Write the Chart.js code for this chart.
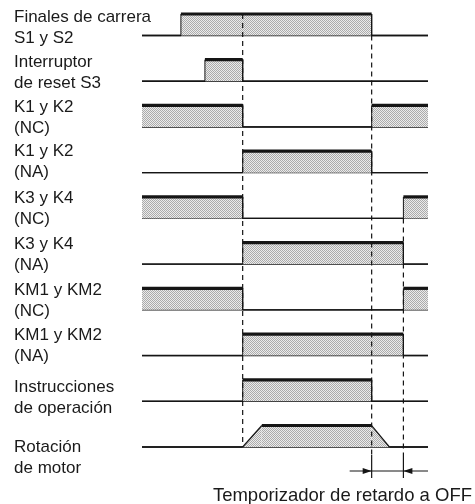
<!DOCTYPE html>
<html>
<head>
<meta charset="utf-8">
<script src="https://cdn.jsdelivr.net/npm/chart.js@4"></script>
<style>
    body { margin: 0; background: #fff; }
</style>
</head>
<body>
<canvas id="timingChart" width="475" height="504"></canvas>
<script>
// Signal names, two lines each
const signalLabels = [
    ['Finales de carrera', 'S1 y S2'],
    ['Interruptor', 'de reset S3'],
    ['K1 y K2', '(NC)'],
    ['K1 y K2', '(NA)'],
    ['K3 y K4', '(NC)'],
    ['K3 y K4', '(NA)'],
    ['KM1 y KM2', '(NC)'],
    ['KM1 y KM2', '(NA)'],
    ['Instrucciones', 'de operación'],
    ['Rotación', 'de motor']
];

// switching instants on the time axis
const switchTimes = [0, 13.6, 22, 35.2, 80.3, 91.4, 100];

// state (1 = on) in each interval between switching instants
const s1s2State = [0, 1, 1, 1, 0, 0];
const s3State = [0, 0, 1, 0, 0, 0];
const k1k2NcState = [1, 1, 1, 0, 1, 1];
const k1k2NaState = [0, 0, 0, 1, 0, 0];
const k3k4NcState = [1, 1, 1, 0, 0, 1];
const k3k4NaState = [0, 0, 0, 1, 1, 0];
const km1km2NcState = [1, 1, 1, 0, 0, 1];
const km1km2NaState = [0, 0, 0, 1, 1, 0];
const operationState = [0, 0, 0, 1, 0, 0];

// motor speed: ramps up after start, coasts down after stop
const rotationTimes = [0, 35.2, 41.9, 80.3, 86.5, 100];
const rotationLevels = [0, 0, 1, 1, 0, 0];

const offDelayLabel = 'Temporizador de retardo a OFF';

const stepStates = [s1s2State, s3State, k1k2NcState, k1k2NaState, k3k4NcState,
    k3k4NaState, km1km2NcState, km1km2NaState, operationState];

const HIGH = 0.47;     // height of an "on" level, in row units
const INK = '#151515';
const FONT = '"Liberation Sans", Arial, sans-serif';

// vertical nudge (px) of each caption pair from its row centre
const labelNudge = [3.5, 2, 1.5, -0.5, 1.3, 1.5, 1.8, 1.5, 7, 21.5];

function stipple() {
    const c = document.createElement('canvas');
    c.width = c.height = 2;
    const g = c.getContext('2d');
    g.fillStyle = '#ebebeb';
    g.fillRect(0, 0, 2, 2);
    g.fillStyle = '#ababab';
    g.fillRect(0, 0, 1, 1);
    g.fillRect(1, 1, 1, 1);
    return g.createPattern(c, 'repeat');
}

function stepPoints(states, base) {
    const pts = [{ x: switchTimes[0], y: base + states[0] * HIGH }];
    for (let j = 1; j < states.length; j++) {
        if (states[j] !== states[j - 1]) {
            pts.push({ x: switchTimes[j], y: base + states[j - 1] * HIGH });
            pts.push({ x: switchTimes[j], y: base + states[j] * HIGH });
        }
    }
    pts.push({ x: switchTimes[switchTimes.length - 1], y: base + states[states.length - 1] * HIGH });
    return pts;
}

function waveDataset(points, base, fill) {
    return {
        data: points,
        borderColor: INK,
        backgroundColor: fill,
        fill: { value: base },
        borderWidth: 1,
        pointRadius: 0,
        tension: 0,
        clip: false,
        segment: {
            borderWidth: c => {
                if (c.p0.parsed.x === c.p1.parsed.x) return 1;
                const high = c.p0.parsed.y > base + 0.1 && c.p1.parsed.y > base + 0.1;
                if (high) return 3.2;
                return c.p0.parsed.y === c.p1.parsed.y ? 1.3 : 1.2;
            }
        }
    };
}

function initTimingChart() {
    const ctx = document.getElementById('timingChart');
    if (!ctx) return;

    const fill = stipple();
    const datasets = [];

    stepStates.forEach((states, i) => {
        datasets.push(waveDataset(stepPoints(states, -i), -i, fill));
    });
    const rotBase = -stepStates.length;
    datasets.push(waveDataset(
        rotationTimes.map((t, k) => ({ x: t, y: rotBase + rotationLevels[k] * HIGH })),
        rotBase, fill));

    // baselines of every row
    signalLabels.forEach((_, i) => {
        datasets.push({
            data: [{ x: switchTimes[0], y: -i }, { x: switchTimes[switchTimes.length - 1], y: -i }],
            borderColor: INK,
            borderWidth: 1.4,
            pointRadius: 0,
            fill: false,
            clip: false
        });
    });

    // row captions on the left, placed from the y scale
    const rowCaptions = {
        id: 'rowCaptions',
        afterDraw(chart) {
            const { ctx, scales: { y } } = chart;
            ctx.save();
            ctx.font = '17px ' + FONT;
            ctx.fillStyle = '#1a1a1a';
            ctx.textAlign = 'left';
            ctx.textBaseline = 'middle';
            signalLabels.forEach((lines, i) => {
                const centre = (y.getPixelForValue(-i) + y.getPixelForValue(-i + HIGH)) / 2 + labelNudge[i];
                ctx.fillText(lines[0], 14, centre - 10.5);
                ctx.fillText(lines[1], 14, centre + 10.5);
            });
            ctx.restore();
        }
    };

    const timingGuides = {
        id: 'timingGuides',
        afterDatasetsDraw(chart) {
            const { ctx, scales: { x, y } } = chart;
            const xStart = x.getPixelForValue(switchTimes[3]);
            const xStop = x.getPixelForValue(switchTimes[4]);
            const xOff = x.getPixelForValue(switchTimes[5]);
            const arrowY = y.bottom + 24;
            const guides = [
                [xStart, y.getPixelForValue(HIGH), y.getPixelForValue(rotBase)],
                [xStop, y.getPixelForValue(0), arrowY - 16],
                [xOff, y.getPixelForValue(-4), arrowY - 16]
            ];
            ctx.save();
            ctx.strokeStyle = INK;
            ctx.lineWidth = 1.2;
            ctx.setLineDash([5, 4]);
            guides.forEach(([gx, y0, y1]) => {
                ctx.beginPath();
                ctx.moveTo(gx, y0);
                ctx.lineTo(gx, y1);
                ctx.stroke();
            });
            ctx.setLineDash([]);
            // solid ticks and dimension line of the off-delay
            [xStop, xOff].forEach(gx => {
                ctx.beginPath();
                ctx.moveTo(gx, arrowY - 16);
                ctx.lineTo(gx, arrowY + 7);
                ctx.stroke();
            });
            ctx.lineWidth = 1;
            ctx.beginPath();
            ctx.moveTo(xStop - 22, arrowY);
            ctx.lineTo(x.right, arrowY);
            ctx.stroke();
            ctx.fillStyle = INK;
            ctx.beginPath();
            ctx.moveTo(xStop, arrowY);
            ctx.lineTo(xStop - 9, arrowY - 3);
            ctx.lineTo(xStop - 9, arrowY + 3);
            ctx.closePath();
            ctx.fill();
            ctx.beginPath();
            ctx.moveTo(xOff, arrowY);
            ctx.lineTo(xOff + 9, arrowY - 3);
            ctx.lineTo(xOff + 9, arrowY + 3);
            ctx.closePath();
            ctx.fill();

            ctx.font = '18.5px ' + FONT;
            ctx.fillStyle = '#1a1a1a';
            ctx.textAlign = 'right';
            ctx.textBaseline = 'alphabetic';
            ctx.fillText(offDelayLabel, chart.width - 3, arrowY + 30);
            ctx.restore();
        }
    };

    new Chart(ctx, {
        type: 'line',
        data: { datasets: datasets },
        options: {
            responsive: false,
            animation: false,
            layout: { padding: { left: 142, right: 47, top: 14, bottom: 57 } },
            plugins: {
                legend: { display: false },
                tooltip: { enabled: false }
            },
            scales: {
                x: {
                    type: 'linear',
                    min: switchTimes[0],
                    max: switchTimes[switchTimes.length - 1],
                    display: false
                },
                y: {
                    type: 'linear',
                    min: rotBase,
                    max: HIGH,
                    display: false
                }
            }
        },
        plugins: [timingGuides, rowCaptions]
    });
}

initTimingChart();
</script>
</body>
</html>
